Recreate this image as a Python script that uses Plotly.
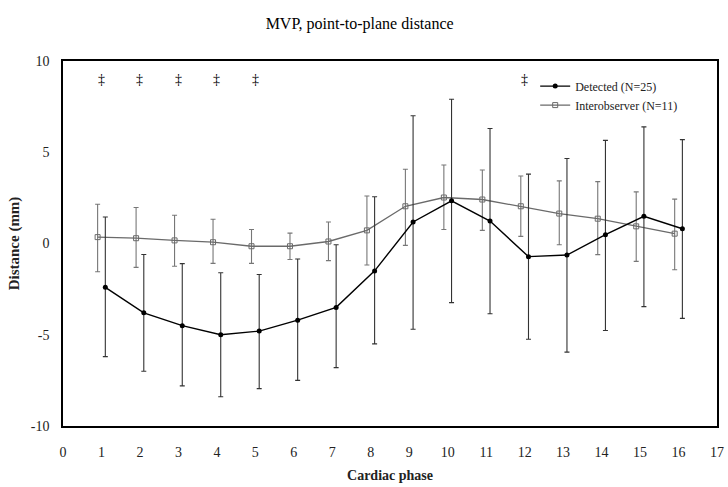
import plotly.graph_objects as go

# ---- data ----
phases = list(range(1, 17))

detected_mean = [-2.4, -3.8, -4.5, -5.0, -4.8, -4.2, -3.5, -1.5, 1.18, 2.34, 1.23, -0.72, -0.63, 0.48, 1.49, 0.81]
detected_upper = [1.45, -0.6, -1.1, -1.6, -1.7, -0.85, -0.07, 2.56, 7.0, 7.9, 6.3, 3.8, 4.66, 5.65, 6.39, 5.69]
detected_lower = [-6.2, -7.0, -7.8, -8.4, -7.95, -7.5, -6.8, -5.5, -4.7, -3.24, -3.85, -5.25, -5.95, -4.77, -3.46, -4.1]

io_mean = [0.35, 0.29, 0.17, 0.07, -0.15, -0.15, 0.11, 0.72, 2.04, 2.52, 2.41, 2.04, 1.64, 1.36, 0.94, 0.54]
io_upper = [2.15, 1.97, 1.55, 1.33, 0.77, 0.57, 1.18, 2.6, 4.07, 4.3, 4.03, 3.7, 3.43, 3.39, 2.83, 2.43]
io_lower = [-1.55, -1.31, -1.25, -1.09, -1.09, -0.88, -0.94, -1.18, -0.1, 0.77, 0.72, 0.39, -0.07, -0.61, -0.98, -1.44]

dagger_phases = [1, 2, 3, 4, 5, 12]
dagger_level = 9.0

x_ticks = list(range(0, 18))
y_ticks = [-10, -5, 0, 5, 10]

# ---- styling ----
SERIF = "Liberation Serif, Times New Roman, serif"
DET_SHIFT = 0.1
IO_SHIFT = -0.1

det_x = [p + DET_SHIFT for p in phases]
io_x = [p + IO_SHIFT for p in phases]

fig = go.Figure()

fig.add_trace(go.Scatter(
    x=io_x, y=io_mean, mode="lines+markers", name="Interobserver (N=11)",
    line=dict(color="#6a6a6a", width=1.3),
    marker=dict(symbol="square-open", size=5, color="#6a6a6a", line=dict(width=1)),
    error_y=dict(type="data", symmetric=False,
                 array=[u - m for u, m in zip(io_upper, io_mean)],
                 arrayminus=[m - l for m, l in zip(io_mean, io_lower)],
                 color="#777777", thickness=1.1, width=2.5),
))

fig.add_trace(go.Scatter(
    x=det_x, y=detected_mean, mode="lines+markers", name="Detected (N=25)",
    line=dict(color="black", width=1.4),
    marker=dict(symbol="circle", size=5, color="black"),
    error_y=dict(type="data", symmetric=False,
                 array=[u - m for u, m in zip(detected_upper, detected_mean)],
                 arrayminus=[m - l for m, l in zip(detected_mean, detected_lower)],
                 color="#333333", thickness=1.1, width=2.5),
))

for p in dagger_phases:
    fig.add_annotation(x=p, y=dagger_level, text="‡", showarrow=False,
                       font=dict(family=SERIF, size=14, color="black"))

fig.update_layout(
    width=728, height=487,
    margin=dict(l=63, r=11, t=61, b=61),
    paper_bgcolor="white", plot_bgcolor="white",
    title=dict(text="MVP, point-to-plane distance", x=0.494, xanchor="center",
               y=0.952, yanchor="middle",
               font=dict(family=SERIF, size=16, color="black")),
    font=dict(family=SERIF, color="black"),
    showlegend=True,
    legend=dict(x=0.722, y=0.971, xanchor="left", yanchor="top",
                traceorder="reversed", bgcolor="rgba(0,0,0,0)",
                font=dict(family=SERIF, size=12, color="#222"),
                itemwidth=30, tracegroupgap=0),
)

fig.update_xaxes(
    range=[0, 17], tickvals=x_ticks, ticktext=[str(t) for t in x_ticks],
    showgrid=False, zeroline=False, automargin=False,
    showline=True, linecolor="black", linewidth=1.5, mirror=True,
    ticks="outside", ticklen=12, tickcolor="rgba(0,0,0,0)",
    tickfont=dict(family=SERIF, size=14, color="#222"),
    title=dict(text="<b>Cardiac phase</b>", font=dict(family=SERIF, size=14, color="#222"),
               standoff=12),
)
fig.update_yaxes(
    range=[-10, 10], tickvals=y_ticks, ticktext=[str(t) for t in y_ticks],
    showgrid=False, zeroline=False, automargin=False,
    showline=True, linecolor="black", linewidth=1.5, mirror=True,
    ticks="outside", ticklen=9, tickcolor="rgba(0,0,0,0)",
    tickfont=dict(family=SERIF, size=14, color="#222"),
    title=dict(text="<b>Distance (mm)</b>", font=dict(family=SERIF, size=15, color="#222"),
               standoff=8),
)

fig.write_html("out.html")
